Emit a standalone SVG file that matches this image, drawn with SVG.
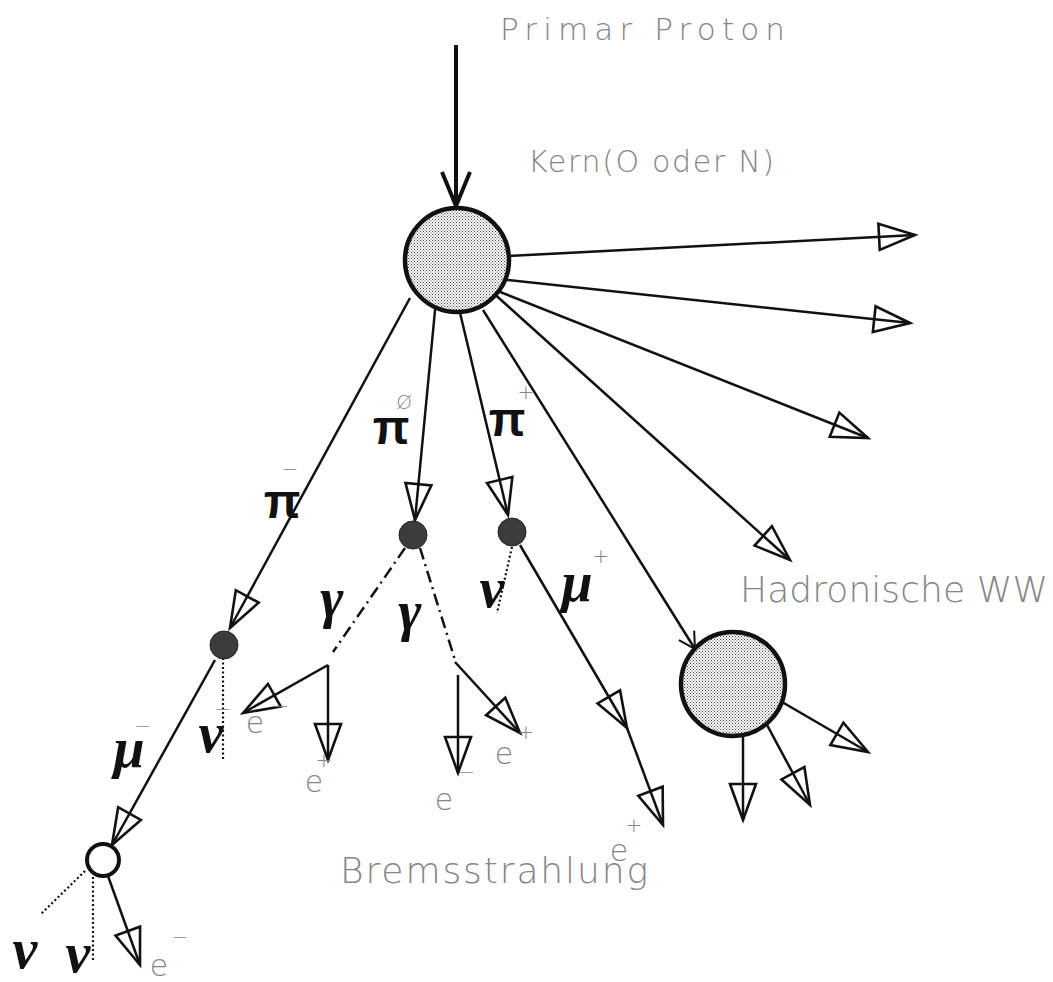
<svg xmlns="http://www.w3.org/2000/svg" width="1053" height="982" viewBox="0 0 1053 982">
<defs>
<pattern id="stip" width="3" height="3" patternUnits="userSpaceOnUse">
<rect width="3" height="3" fill="#ffffff"/>
<rect x="0" y="0" width="1" height="1" fill="#444"/>
<rect x="1.5" y="1.5" width="1" height="1" fill="#444"/>
</pattern>
<marker id="tri" markerUnits="userSpaceOnUse" markerWidth="44" markerHeight="34" viewBox="-40 -17 44 34" refX="0" refY="0" orient="auto" overflow="visible">
<path d="M0,0 L-36,-13 L-36,13 Z" fill="none" stroke="#111" stroke-width="2.6" stroke-linejoin="miter"/>
</marker>
<marker id="vee" markerUnits="userSpaceOnUse" markerWidth="40" markerHeight="34" viewBox="-38 -17 40 34" refX="0" refY="0" orient="auto" overflow="visible">
<path d="M-34,-14 L0,0 L-34,14" fill="none" stroke="#111" stroke-width="4"/>
</marker>
<marker id="vee2" markerUnits="userSpaceOnUse" markerWidth="20" markerHeight="20" viewBox="-18 -10 20 20" refX="0" refY="0" orient="auto" overflow="visible">
<path d="M-16,-9 L0,0 L-16,9" fill="none" stroke="#111" stroke-width="2"/>
</marker>
</defs>
<style>
.ln{stroke:#111;stroke-width:2.5;fill:none}
.ar{marker-end:url(#tri)}
.dd{stroke:#111;stroke-width:2.5;fill:none;stroke-dasharray:12 5 2 5}
.dt{stroke:#111;stroke-width:2.2;fill:none;stroke-dasharray:2 2.5}
.big{fill:url(#stip);stroke:#111;stroke-width:4.5}
.dot{fill:#3c3c3c;stroke:#222;stroke-width:1}
.lbl{font-family:"DejaVu Sans","Liberation Sans",sans-serif;font-weight:200;fill:#858585}
.sm{font-family:"DejaVu Sans","Liberation Sans",sans-serif;font-weight:200;fill:#858585;font-size:30px;text-anchor:middle}
.sup{font-family:"DejaVu Sans","Liberation Sans",sans-serif;font-weight:200;fill:#858585;font-size:20px;text-anchor:middle}
.pi{font-family:"Liberation Sans",sans-serif;font-weight:bold;font-size:48px;fill:#111;text-anchor:middle}
.gr{font-family:"Liberation Serif",serif;font-weight:bold;font-style:italic;font-size:56px;fill:#111;text-anchor:middle}
</style>

<g id="connectors">
<line x1="456" y1="45" x2="456" y2="206" stroke="#111" stroke-width="4" marker-end="url(#vee)"/>
<line class="ln ar" x1="470" y1="258" x2="915" y2="235"/>
<line class="ln ar" x1="470" y1="276" x2="910" y2="323"/>
<line class="ln ar" x1="470" y1="280" x2="868" y2="438"/>
<line class="ln ar" x1="470" y1="272" x2="790" y2="560"/>
<line class="ln" x1="483" y1="310" x2="695" y2="649" marker-end="url(#vee2)"/>
<line class="ln ar" x1="410" y1="298" x2="230" y2="628"/>
<line class="ln ar" x1="436" y1="300" x2="415" y2="520"/>
<line class="ln ar" x1="457" y1="300" x2="508" y2="515"/>
<line class="dd" x1="405" y1="548" x2="333" y2="652"/>
<line class="ln ar" x1="328" y1="665" x2="243" y2="713"/>
<line class="ln ar" x1="328" y1="665" x2="328" y2="760"/>
<line class="dd" x1="420" y1="548" x2="455" y2="660"/>
<line class="ln ar" x1="455" y1="662" x2="520" y2="733"/>
<line class="ln ar" x1="458" y1="675" x2="458" y2="773"/>
<line class="dt" x1="512" y1="547" x2="497" y2="613"/>
<line class="ln ar" x1="520" y1="545" x2="627" y2="728"/>
<line class="ln ar" x1="627" y1="728" x2="663" y2="825"/>
<line class="dt" x1="223" y1="658" x2="223" y2="760"/>
<line class="ln ar" x1="215" y1="660" x2="112" y2="845"/>
<line class="dt" x1="85" y1="871" x2="40" y2="915"/>
<line class="dt" x1="93" y1="877" x2="93" y2="962"/>
<line class="ln ar" x1="108" y1="876" x2="140" y2="965"/>
<line class="ln ar" x1="770" y1="695" x2="868" y2="752"/>
<line class="ln ar" x1="760" y1="712" x2="810" y2="805"/>
<line class="ln ar" x1="743" y1="720" x2="743" y2="820"/>
</g>

<g id="nucleus">
<circle class="big" cx="457" cy="260" r="52"/>
</g>
<g id="hadron">
<circle class="big" cx="733" cy="684" r="52"/>
</g>
<g id="pim-decay"><circle class="dot" cx="224" cy="645" r="14"/></g>
<g id="pi0-decay"><circle class="dot" cx="413" cy="535" r="14"/></g>
<g id="pip-decay"><circle class="dot" cx="512" cy="532" r="14"/></g>
<g id="mu-decay"><circle cx="103" cy="860" r="16" fill="#fff" stroke="#111" stroke-width="4"/></g>

<g id="labels">
<text class="lbl" x="500" y="40" font-size="31" textLength="285" lengthAdjust="spacing">Primar Proton</text>
<text class="lbl" x="528" y="172" font-size="30" textLength="246" lengthAdjust="spacing">Kern(O oder N)</text>
<text class="lbl" x="740" y="602" font-size="36" textLength="308" lengthAdjust="spacing">Hadronische WW</text>
<text class="lbl" x="340" y="883" font-size="36" textLength="308" lengthAdjust="spacing">Bremsstrahlung</text>

<text class="pi" x="282" y="518">π</text><text class="sup" x="290" y="476">−</text>
<text class="pi" x="391" y="444">π</text><text class="sup" x="404" y="409">Ø</text>
<text class="pi" x="507" y="436">π</text><text class="sup" x="526" y="399">+</text>
<text class="gr" x="332" y="617">γ</text>
<text class="gr" x="410" y="630">γ</text>
<text class="gr" x="492" y="607">ν</text>
<text class="gr" x="577" y="601">μ</text><text class="sup" x="601" y="563">+</text>
<text class="gr" x="211" y="752">ν</text><text class="sup" x="223" y="716">−</text>
<text class="gr" x="129" y="767">μ</text><text class="sup" x="143" y="733">−</text>
<text class="gr" x="25" y="968">ν</text>
<text class="gr" x="78" y="972">ν</text>

<text class="sm" x="255" y="733">e</text><text class="sup" x="281" y="713">−</text>
<text class="sm" x="314" y="792">e</text><text class="sup" x="324" y="767">+</text>
<text class="sm" x="444" y="810">e</text><text class="sup" x="467" y="779">−</text>
<text class="sm" x="504" y="764">e</text><text class="sup" x="526" y="739">+</text>
<text class="sm" x="619" y="861">e</text><text class="sup" x="634" y="832">+</text>
<text class="sm" x="159" y="976">e</text><text class="sup" x="180" y="944">−</text>
</g>
</svg>
